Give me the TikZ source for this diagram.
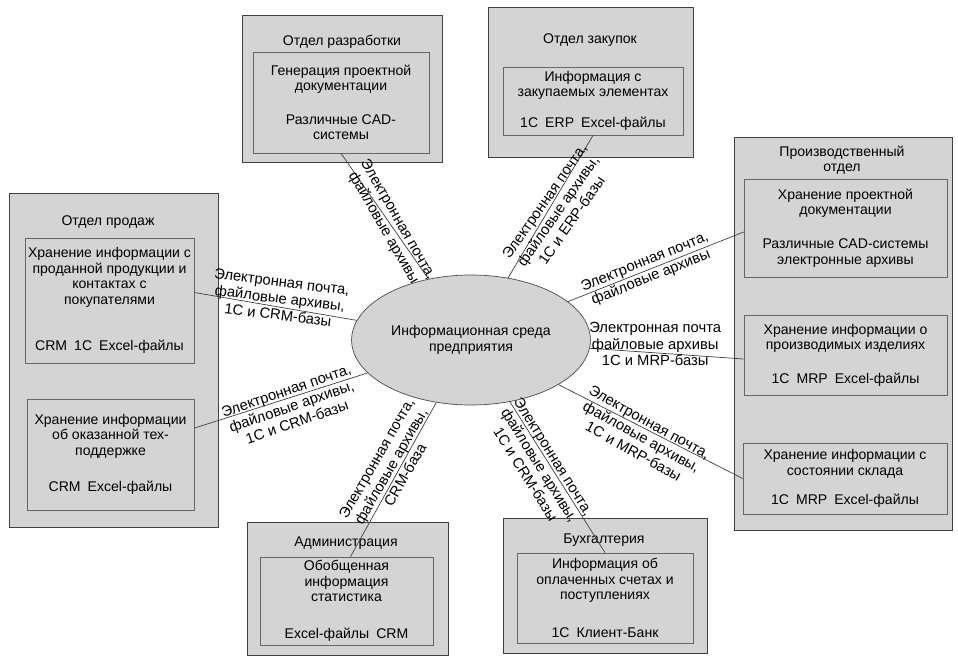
\documentclass[tikz,border=0pt]{standalone}
\usepackage{fontspec}
\setmainfont{Liberation Sans}
\usetikzlibrary{shapes.geometric,positioning}
\tikzset{
    deptbox/.style={draw=black!75, fill=black!17, line width=0.6pt, inner sep=0pt},
    depttitle/.style={align=center, font=\fontsize{10}{11}\selectfont, inner sep=1pt},
    infobox/.style={draw=black!60, fill=black!17, line width=0.5pt, align=center, font=\fontsize{10}{11}\selectfont, inner sep=2pt},
    envnode/.style={ellipse, draw=black!70, fill=black!17, line width=0.5pt, align=center, font=\fontsize{10}{11}\selectfont, minimum width=5.05cm, minimum height=3.25cm},
    linkline/.style={draw=black!75, line width=0.5pt},
    linklabel/.style={align=center, font=\fontsize{10.5}{11.8}\selectfont, inner sep=1pt}
}

\begin{document}
\begin{tikzpicture}
    \useasboundingbox (0,0) rectangle (23.95,-16.425);

    % department frames
    \node[deptbox, minimum width=5cm, minimum height=3.675cm] (dev) at (8.55,-2.2125) {};
    \node[deptbox, minimum width=5.125cm, minimum height=3.75cm] (buy) at (14.7625,-2.05) {};
    \node[deptbox, minimum width=5.45cm, minimum height=9.825cm] (prod) at (21.075,-8.3375) {};
    \node[deptbox, minimum width=5.225cm, minimum height=8.35cm] (sales) at (2.8375,-9.0) {};
    \node[deptbox, minimum width=5.025cm, minimum height=3.325cm] (admin) at (8.6875,-14.7125) {};
    \node[deptbox, minimum width=5.1cm, minimum height=3.375cm] (acc) at (15.125,-14.6375) {};

    % titles
    \node[depttitle] (devtitle) at (8.55,-1.05) {Отдел разработки};
    \node[depttitle] (buytitle) at (14.75,-1.0) {Отдел закупок};
    \node[depttitle] (prodtitle) at (21.05,-4.0) {Производственный\\отдел};
    \node[depttitle] (salestitle) at (2.7,-5.55) {Отдел продаж};
    \node[depttitle] (admintitle) at (8.65,-13.575) {Администрация};
    \node[depttitle] (acctitle) at (15.1,-13.5) {Бухгалтерия};

    % information blocks
    \node[infobox, minimum width=4.4cm, minimum height=2.525cm] (devinfo) at (8.525,-2.5625)
        {Генерация проектной\\документации\\[13pt]Различные CAD-\\системы};
    \node[infobox, minimum width=4.5cm, minimum height=1.7cm] (buyinfo) at (14.825,-2.525)
        {Информация с\\закупаемых элементах\\[11pt]1С\enspace ERP\enspace Excel-файлы};
    \node[infobox, minimum width=5.075cm, minimum height=2.45cm] (prodcad) at (21.1375,-5.7)
        {Хранение проектной\\документации\\[13pt]Различные CAD-системы\\электронные архивы};
    \node[infobox, minimum width=5.075cm, minimum height=2cm] (prodmrp) at (21.1375,-8.875)
        {Хранение информации о\\производимых изделиях\\[13pt]1С\enspace MRP\enspace Excel-файлы};
    \node[infobox, minimum width=5.1cm, minimum height=1.775cm] (prodstock) at (21.125,-11.9625)
        {Хранение информации с\\состоянии склада\\[10pt]1С\enspace MRP\enspace Excel-файлы};
    \node[infobox, minimum width=4.225cm, minimum height=3.125cm] (salescrm) at (2.7375,-7.5125)
        {Хранение информации с\\проданной продукции и\\контактах с\\покупателями\\[22pt]CRM\enspace 1С\enspace Excel-файлы};
    \node[infobox, minimum width=4.175cm, minimum height=2.775cm] (salessup) at (2.7625,-11.3625)
        {Хранение информации\\об оказанной тех-\\поддержке\\[15pt]CRM\enspace Excel-файлы};
    \node[infobox, minimum width=4.325cm, minimum height=2.2cm] (admininfo) at (8.6625,-15.025)
        {Обобщенная\\информация\\статистика\\[15pt]Excel-файлы\enspace CRM};
    \node[infobox, minimum width=4.4cm, minimum height=2.25cm] (accinfo) at (15.125,-14.95)
        {Информация об\\оплаченных счетах и\\поступлениях\\[16pt]1С\enspace Клиент-Банк};

    % centre
    \node[envnode] (env) at (11.775,-8.5) {Информационная среда\\предприятия};

    % links
    \draw[linkline] (env) -- (devinfo.south);
    \draw[linkline] (env) -- (buyinfo.south);
    \draw[linkline] (env) -- ([yshift=-1mm]prodcad.west);
    \draw[linkline] (env) -- ([yshift=-1mm]prodmrp.west);
    \draw[linkline] (env) -- (prodstock.west);
    \draw[linkline] (env) -- ([yshift=2mm]salescrm.east);
    \draw[linkline] (env) -- ([yshift=6.6mm]salessup.east);
    \draw[linkline] (env) -- ([xshift=1mm]admininfo.north);
    \draw[linkline] (env) -- (accinfo.north);

    % link labels
    \node[linklabel, rotate=-60] (devlink) at (9.76,-5.6) {Электронная почта,\\файловые архивы};
    \node[linklabel, rotate=55] (buylink) at (13.95,-5.27) {Электронная почта,\\файловые архивы,\\1С и ERP-базы};
    \node[linklabel, rotate=22] (cadlink) at (16.2,-6.75) {Электронная почта,\\файловые архивы};
    \node[linklabel] (mrplink) at (16.38,-8.6) {Электронная почта\\файловые архивы\\1С и MRP-базы};
    \node[linklabel, rotate=-29] (stocklink) at (16.04,-10.92) {Электронная почта,\\файловые архивы,\\1С и MRP-базы};
    \node[linklabel, rotate=-7] (crmlink) at (7.0,-7.46) {Электронная почта,\\файловые архивы,\\1С и CRM-базы};
    \node[linklabel, rotate=19] (suplink) at (7.29,-10.16) {Электронная почта,\\файловые архивы,\\1С и CRM-базы};
    \node[linklabel, rotate=60] (adminlink) at (9.77,-11.66) {Электронная почта,\\файловые архивы,\\CRM-база};
    \node[linklabel, rotate=-58] (acclink) at (13.49,-11.63) {Электронная почта,\\файловые архивы,\\1С и CRM-базы};
\end{tikzpicture}
\end{document}
